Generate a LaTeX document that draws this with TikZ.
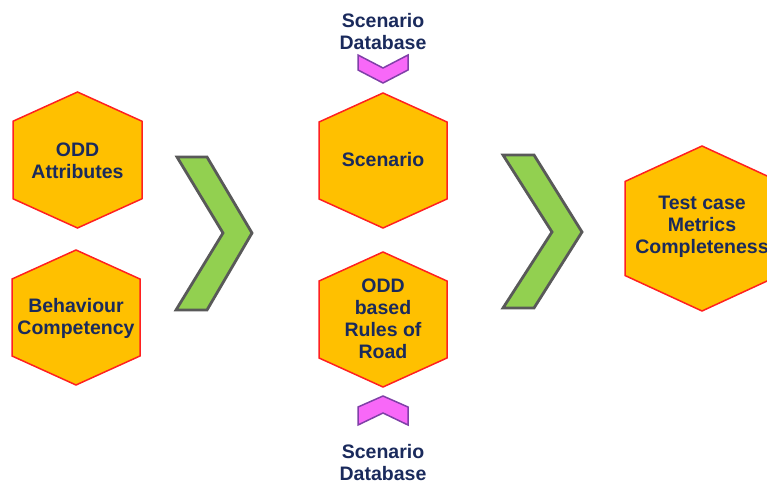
\documentclass[tikz,border=0pt]{standalone}
\usepackage{fontspec}
\setmainfont{Liberation Sans}
\definecolor{hexfill}{HTML}{FFC000}
\definecolor{hexline}{HTML}{FF2020}
\definecolor{txtnavy}{HTML}{1A2A5C}
\definecolor{greenfill}{HTML}{92D050}
\definecolor{greenline}{HTML}{595959}
\definecolor{pinkfill}{HTML}{F868F8}
\definecolor{pinkline}{HTML}{8040A8}
\tikzset{
  hexstyle/.style={fill=hexfill,draw=hexline,line width=1.5pt,line join=miter},
  chevgreen/.style={fill=greenfill,draw=greenline,line width=2.8pt,line join=miter},
  chevpink/.style={fill=pinkfill,draw=pinkline,line width=1.5pt,line join=miter},
  lbl/.style={text=txtnavy,font=\fontsize{19.5}{22}\selectfont\bfseries,align=center,inner sep=0pt}
}
\newcommand{\hexat}[4]{%
  \draw[hexstyle] ({#1-#3/2},{#2-0.285*#4}) -- ({#1},{#2-#4/2}) -- ({#1+#3/2},{#2-0.285*#4})
    -- ({#1+#3/2},{#2+0.285*#4}) -- ({#1},{#2+#4/2}) -- ({#1-#3/2},{#2+0.285*#4}) -- cycle;}
\begin{document}
\begin{tikzpicture}[x=1pt,y=-1pt]
\useasboundingbox (0,0) rectangle (767,481);
% hexagons
\hexat{77.5}{160}{129}{136}
\hexat{76}{317.5}{128}{135}
\hexat{383}{160.5}{128}{135}
\hexat{383}{319.5}{128}{135}
\hexat{702}{228.5}{154}{165}
% green chevrons
\draw[chevgreen] (177,157) -- (207,157) -- (252,233) -- (207,310) -- (176,310) -- (223,233) -- cycle;
\draw[chevgreen] (503,155) -- (534,155) -- (582,232) -- (534,308) -- (503,308) -- (552,232) -- cycle;
% pink chevrons
\draw[chevpink] (358,55) -- (383,68) -- (408,55) -- (408,70) -- (383,83) -- (358,70) -- cycle;
\draw[chevpink] (383,396) -- (408,407) -- (408,425) -- (383,413) -- (358,425) -- (358,407) -- cycle;
% labels
\node[lbl] (oddattr) at (77.5,161) {ODD\\Attributes};
\node[lbl] (behav) at (76,318) {Behaviour\\Competency};
\node[lbl] (scen) at (383,160) {Scenario};
\node[lbl] (rules) at (383,318.5) {ODD\\based\\Rules of\\Road};
\node[lbl] (metrics) at (702,227) {Test case\\Metrics\\Completeness};
\node[lbl] (dbtop) at (383,31.5) {Scenario\\Database};
\node[lbl] (dbbot) at (383,463) {Scenario\\Database};
\end{tikzpicture}
\end{document}
